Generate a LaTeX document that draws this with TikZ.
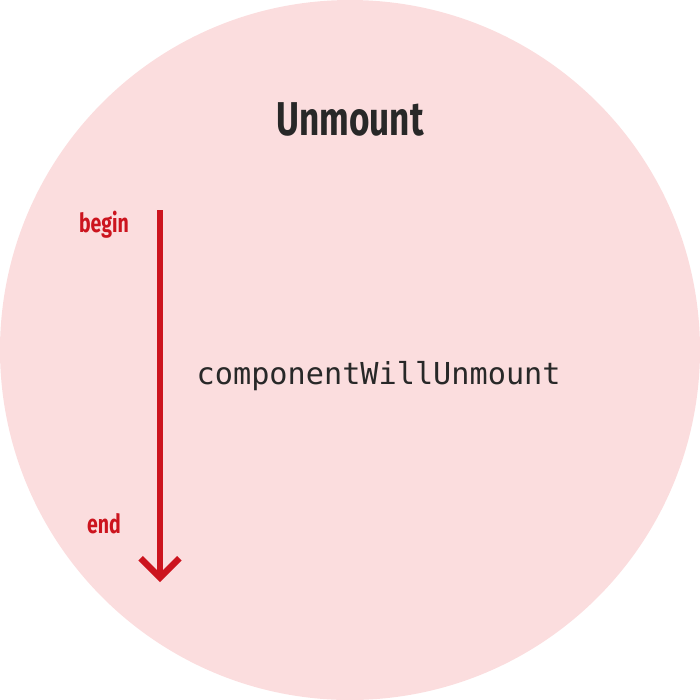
\documentclass[tikz,border=0pt]{standalone}
\usepackage{fontspec}
\usetikzlibrary{arrows.meta}
\newfontfamily\condfont[FakeStretch=0.74]{Fira Sans}
\setmonofont{DejaVu Sans Mono}
\definecolor{bgpink}{RGB}{251,221,222}
\definecolor{flowred}{RGB}{204,20,30}
\definecolor{titlegray}{RGB}{40,40,40}
\tikzset{
  label/.style={font=\condfont\bfseries\fontsize{7.5}{9}\selectfont,text=flowred,inner sep=0pt},
  flow/.style={draw=flowred,line width=1.8pt,-{Straight Barb[length=5.5pt,width=11pt,line width=1.8pt]}}
}
\begin{document}
\begin{tikzpicture}[x=0.1mm,y=-0.1mm]
  \useasboundingbox (0,0) rectangle (700,700);
  \fill[bgpink] (350,350) circle (350);
  \node[font=\condfont\bfseries\fontsize{13.5}{16}\selectfont,text=titlegray] (title) at (350,119) {Unmount};
  \node[label] (begin) at (104,225) {begin};
  \node[label] (end) at (104,524) {end};
  \coordinate (top) at (160,210);
  \coordinate (bottom) at (160,582);
  \draw[flow] (top) -- (bottom);
  \node[font=\ttfamily\fontsize{8.6}{10}\selectfont,text=titlegray,anchor=west,inner sep=0pt] (hook) at (196,376) {componentWillUnmount};
\end{tikzpicture}
\end{document}
